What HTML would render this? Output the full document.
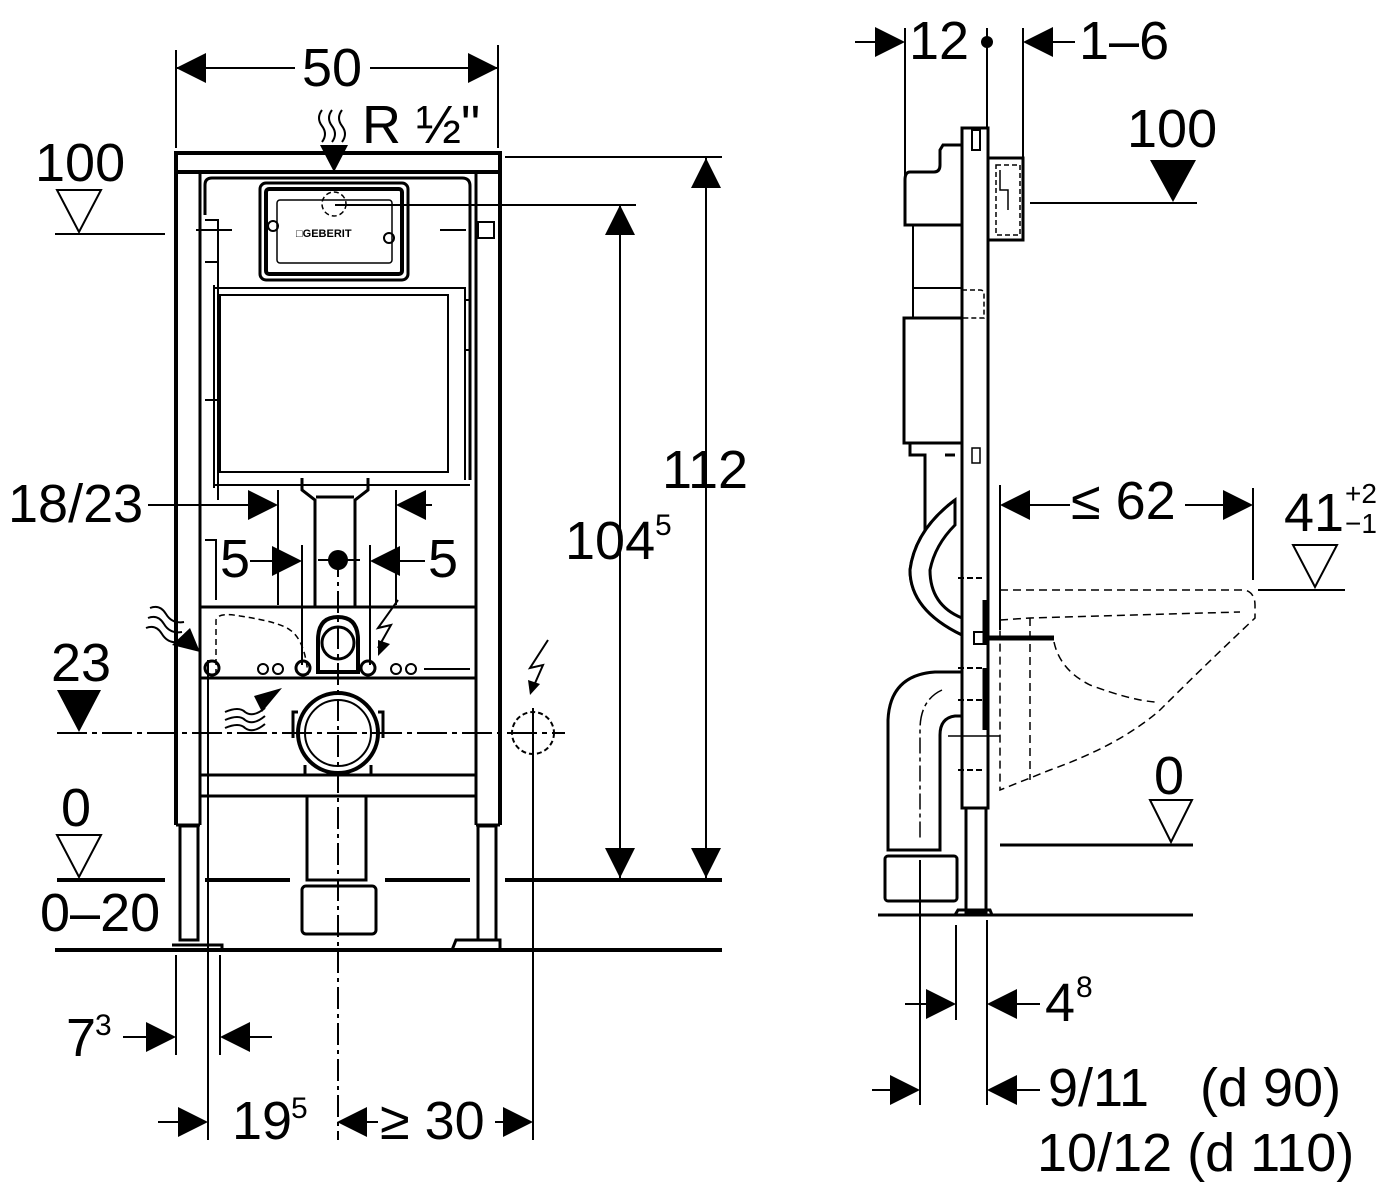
<!DOCTYPE html>
<html><head><meta charset="utf-8"><style>
html,body{margin:0;padding:0;background:#fff}
svg{display:block}
text{font-family:"Liberation Sans",Arial,sans-serif;fill:#000}
</style></head><body>
<svg width="1400" height="1200" viewBox="0 0 1400 1200" xmlns="http://www.w3.org/2000/svg">
<g stroke="#000" fill="none" stroke-width="2">
<line x1="176" y1="50" x2="176" y2="148"/><line x1="498" y1="45" x2="498" y2="148"/>
<line x1="176" y1="68" x2="295" y2="68"/><line x1="370" y1="68" x2="498" y2="68"/>
<rect x="176" y="153" width="324" height="19" stroke-width="4"/>
<line x1="176" y1="172" x2="176" y2="825" stroke-width="4"/>
<line x1="200" y1="172" x2="200" y2="825" stroke-width="3"/>
<line x1="500" y1="172" x2="500" y2="825" stroke-width="4"/>
<line x1="476" y1="172" x2="476" y2="825" stroke-width="3"/>
<line x1="176" y1="825" x2="200" y2="825" stroke-width="3"/>
<line x1="476" y1="825" x2="500" y2="825" stroke-width="3"/>
<rect x="180" y="826" width="18" height="114" stroke-width="3"/>
<rect x="478" y="826" width="18" height="114" stroke-width="3"/>
<path d="M172 945 L222 945 L222 950" stroke-width="3"/>
<path d="M452 950 L456 940 L500 940 L500 950" stroke-width="3"/>
<path d="M205 215 L205 185 Q205 178 212 178 L462 178 Q470 178 470 186 L470 480" stroke-width="3"/>
<path d="M214 285 L214 488" stroke-width="2"/>
<path d="M214 288 L465 288 L465 480" stroke-width="2"/>
<rect x="220" y="295" width="228" height="177" stroke-width="2"/>
<line x1="214" y1="485" x2="470" y2="485" stroke-width="2"/>
<rect x="260" y="183" width="148" height="97" rx="6" stroke-width="3"/>
<rect x="266" y="189" width="136" height="85" rx="3" stroke-width="4"/>
<rect x="277" y="200" width="115" height="63" rx="3" stroke-width="1.5"/>
<circle cx="334" cy="204" r="12" stroke-dasharray="5 3" stroke-width="1.5"/>
<circle cx="273" cy="226" r="5"/><circle cx="389" cy="238" r="5"/>
<line x1="335" y1="205" x2="636" y2="205"/>
<line x1="196" y1="230" x2="232" y2="230"/><line x1="440" y1="230" x2="466" y2="230"/>
<rect x="478" y="222" width="16" height="16" stroke-width="2"/>
<path d="M205 220 L218 220 L218 500" stroke-width="2"/>
<path d="M205 262 L218 262 M205 400 L218 400" stroke-width="2"/>
<path d="M205 540 L216 540 L216 600" stroke-width="2"/>
<path d="M465 300 L470 300 L470 350 L465 350" stroke-width="2"/>
<path d="M302 478 L302 490 L315 500 L315 607 M368 478 L368 490 L355 500 L355 607" stroke-width="3"/>
<line x1="316" y1="497" x2="354" y2="497" stroke-width="3"/>
<line x1="200" y1="607" x2="476" y2="607" stroke-width="3"/>
<line x1="200" y1="678" x2="476" y2="678" stroke-width="3"/>
<line x1="200" y1="775" x2="476" y2="775" stroke-width="3"/>
<line x1="200" y1="796" x2="476" y2="796" stroke-width="3"/>
<path d="M216 675 L216 620 Q218 612 240 616 Q280 622 290 630 Q305 640 308 675" stroke-dasharray="6 4" stroke-width="1.5"/>
<circle cx="212" cy="668" r="7" stroke-width="3"/>
<circle cx="263" cy="669" r="5"/><circle cx="278" cy="669" r="5"/>
<circle cx="303" cy="668" r="7" stroke-width="3"/>
<circle cx="368" cy="668" r="7" stroke-width="3"/>
<circle cx="396" cy="669" r="5"/><circle cx="411" cy="669" r="5"/>
<line x1="424" y1="669" x2="470" y2="669"/>
<path d="M318 672 L318 640 Q318 617 338 617 Q358 617 358 640 L358 672 Z" stroke-width="4"/>
<circle cx="338" cy="643" r="16" stroke-width="3"/>
<circle cx="338" cy="733" r="40" stroke-width="4"/>
<circle cx="338" cy="733" r="33" stroke-width="2"/>
<path d="M298 712 L293 712 L293 738 M378 712 L383 712 L383 738" stroke-width="3"/>
<path d="M305 765 L305 775 M371 765 L371 775" stroke-width="3"/>
<path d="M307 797 L307 880 L366 880 L366 797" stroke-width="3"/>
<rect x="302" y="886" width="74" height="48" rx="4" stroke-width="3"/>
<line x1="338" y1="555" x2="338" y2="1140" stroke-dasharray="22 5 4 5" stroke-width="2"/>
<line x1="57" y1="733" x2="565" y2="733" stroke-dasharray="30 5 5 5" stroke-width="2"/>
<line x1="318" y1="560" x2="360" y2="560"/>
<circle cx="533" cy="733" r="21" stroke-dasharray="5 3" stroke-width="2"/>
<line x1="533" y1="708" x2="533" y2="1140"/>
<path d="M548 640 L530 668 L543 665 L532 690" stroke-width="2"/>
<path d="M398 600 L378 628 L391 625 L378 648" stroke-width="2"/>
<path d="M322 110 q-6 8 0 16 q6 8 0 16 M332 110 q-6 8 0 16 q6 8 0 16 M342 110 q-6 8 0 16 q6 8 0 16" stroke-width="2"/>
<path d="M150 608 q10 -4 16 6 q6 10 18 8 M148 618 q10 -4 16 6 q6 10 18 8 M146 628 q10 -4 16 6 q6 10 18 8" stroke-width="2"/>
<path d="M225 712 q14 -6 20 0 q8 6 20 -4 M225 720 q14 -6 20 0 q8 6 20 -4 M225 728 q14 -6 20 0 q8 6 20 -4" stroke-width="2"/>
<path d="M57 880 L165 880 M205 880 L290 880 M385 880 L470 880 M505 880 L722 880" stroke-width="4"/>
<line x1="55" y1="950" x2="722" y2="950" stroke-width="4"/>
<line x1="55" y1="234" x2="165" y2="234"/>
<path d="M57 190 L101 190 L79 232 Z"/>
<path d="M57 835 L101 835 L79 877 Z"/>
<line x1="620" y1="205" x2="620" y2="878"/>
<line x1="706" y1="158" x2="706" y2="878"/>
<line x1="505" y1="157" x2="722" y2="157"/>
<line x1="148" y1="505" x2="250" y2="505"/>
<line x1="278" y1="490" x2="278" y2="605"/>
<line x1="396" y1="490" x2="396" y2="605"/>
<line x1="425" y1="505" x2="432" y2="505"/>
<line x1="250" y1="561" x2="275" y2="561"/>
<line x1="302" y1="545" x2="302" y2="665"/>
<line x1="370" y1="545" x2="370" y2="665"/>
<line x1="398" y1="561" x2="425" y2="561"/>
<line x1="176" y1="955" x2="176" y2="1055"/>
<line x1="208" y1="660" x2="208" y2="1140"/>
<line x1="220" y1="955" x2="220" y2="1055"/>
<line x1="123" y1="1037" x2="150" y2="1037"/>
<line x1="245" y1="1037" x2="272" y2="1037"/>
<line x1="158" y1="1122" x2="180" y2="1122"/>
<line x1="365" y1="1122" x2="378" y2="1122"/>
<line x1="495" y1="1122" x2="505" y2="1122"/>

<line x1="905" y1="28" x2="905" y2="185"/>
<line x1="987" y1="28" x2="987" y2="128"/>
<line x1="1023" y1="28" x2="1023" y2="158"/>
<line x1="855" y1="42" x2="880" y2="42"/>
<line x1="1050" y1="42" x2="1075" y2="42"/>
<rect x="962" y="128" width="26" height="680" stroke-width="3"/>
<rect x="966" y="808" width="20" height="105" stroke-width="3"/>
<rect x="972" y="130" width="8" height="20" stroke-width="2"/>
<path d="M955 915 L958 910 L990 910 L992 915" stroke-width="3"/>
<rect x="988" y="158" width="35" height="82" stroke-width="3"/>
<rect x="996" y="165" width="24" height="70" stroke-dasharray="5 3" stroke-width="1.5"/>
<path d="M1000 170 L1000 190 L1008 190 L1008 210" stroke-width="1.5"/>
<path d="M962 145 L943 145 L940 150 L940 165 Q940 172 934 172 L910 172 Q905 172 905 180 L905 225 L962 225" stroke-width="3"/>
<path d="M913 225 L913 290" stroke-width="2"/>
<rect x="913" y="288" width="49" height="30" stroke-width="2"/>
<path d="M962 290 L980 290 Q984 290 984 294 L984 318 L962 318" stroke-dasharray="5 3" stroke-width="1.5"/>
<rect x="904" y="318" width="58" height="125" stroke-width="3"/>
<path d="M910 443 L910 455 L925 455 L925 530 M945 455 L955 455" stroke-width="3"/>
<rect x="972" y="448" width="8" height="15" stroke-width="1.5"/>
<path d="M955 500 Q915 530 910 570 Q910 610 962 635" stroke-width="3"/>
<path d="M955 525 Q935 545 930 570 Q930 605 962 618" stroke-width="2"/>
<path d="M958 578 L985 578 M958 668 L985 668 M958 770 L985 770 M958 700 L985 700" stroke-dasharray="6 3" stroke-width="2"/>
<line x1="985" y1="600" x2="985" y2="645" stroke-width="5"/>
<line x1="985" y1="668" x2="985" y2="730" stroke-width="5"/>
<line x1="985" y1="638" x2="1054" y2="638" stroke-width="5"/>
<rect x="974" y="632" width="10" height="12" stroke-width="2"/>
<path d="M962 672 L935 672 Q890 675 888 720 L888 850 L940 850 L940 735 Q940 718 955 716 L962 716" stroke-width="3"/>
<path d="M942 690 Q920 700 920 730 L920 840" stroke-dasharray="16 4 4 4" stroke-width="1.5"/>
<rect x="885" y="856" width="72" height="45" rx="3" stroke-width="3"/>
<line x1="948" y1="736" x2="1000" y2="736" stroke-width="1.5"/>
<path d="M1000 590 L1245 590 Q1255 593 1255 605 L1255 618 Q1200 670 1160 710 Q1120 745 1050 770 L1000 790 Z" stroke-dasharray="8 5" stroke-width="1.5"/>
<path d="M1000 620 L1030 618 L1240 612 M1030 618 L1030 780" stroke-dasharray="8 5" stroke-width="1.5"/>
<path d="M1054 642 Q1060 670 1090 685 Q1130 700 1155 702" stroke-dasharray="8 5" stroke-width="1.5"/>
<line x1="1000" y1="485" x2="1000" y2="630"/>
<line x1="1253" y1="488" x2="1253" y2="580"/>
<line x1="1025" y1="505" x2="1070" y2="505"/>
<line x1="1185" y1="505" x2="1225" y2="505"/>
<line x1="1030" y1="203" x2="1197" y2="203"/>
<path d="M1293 545 L1337 545 L1315 587 Z"/>
<line x1="1258" y1="590" x2="1345" y2="590"/>
<path d="M1150 800 L1192 800 L1171 842 Z"/>
<line x1="1000" y1="845" x2="1193" y2="845" stroke-width="3"/>
<line x1="878" y1="915" x2="1193" y2="915" stroke-width="3"/>
<line x1="920" y1="860" x2="920" y2="1105"/>
<line x1="956" y1="925" x2="956" y2="1020"/>
<line x1="987" y1="920" x2="987" y2="1105"/>
<line x1="905" y1="1004" x2="928" y2="1004"/>
<line x1="1015" y1="1004" x2="1040" y2="1004"/>
<line x1="872" y1="1090" x2="892" y2="1090"/>
<line x1="1015" y1="1090" x2="1040" y2="1090"/>
</g>

<g fill="#000" stroke="none">
<polygon points="176,68 206,53 206,83"/><polygon points="498,68 468,53 468,83"/>
<polygon points="334,172 320,145 348,145"/>
<polygon points="620,205 605,235 635,235"/><polygon points="620,878 605,848 635,848"/>
<polygon points="706,158 691,188 721,188"/><polygon points="706,878 691,848 721,848"/>
<polygon points="278,505 248,490 248,520"/><polygon points="396,505 426,490 426,520"/>
<polygon points="302,561 272,546 272,576"/><polygon points="370,561 400,546 400,576"/>
<polygon points="57,690 101,690 79,732"/>
<polygon points="176,1037 146,1022 146,1052"/><polygon points="220,1037 250,1022 250,1052"/>
<polygon points="208,1122 178,1107 178,1137"/>
<polygon points="337,1122 367,1107 367,1137"/><polygon points="533,1122 503,1107 503,1137"/>
<polygon points="200,652 172,645 190,628"/>
<polygon points="282,688 262,712 254,696"/>
<polygon points="378,656 378,640 390,644"/>
<polygon points="530,695 528,680 540,684"/>
<circle cx="338" cy="560" r="10"/>
<polygon points="905,42 875,27 875,57"/><polygon points="1023,42 1053,27 1053,57"/>
<circle cx="987" cy="42" r="6"/>
<polygon points="1150,160 1196,160 1173,202"/>
<polygon points="1000,505 1030,490 1030,520"/><polygon points="1253,505 1223,490 1223,520"/>
<polygon points="956,1004 926,989 926,1019"/><polygon points="987,1004 1017,989 1017,1019"/>
<polygon points="920,1090 890,1075 890,1105"/><polygon points="987,1090 1017,1075 1017,1105"/>
<path d="M955 500 Q915 530 910 570 Q910 610 962 635 L962 618 Q930 605 930 570 Q935 545 955 525 Z" fill="#fff" stroke="#000" stroke-width="3"/>
</g>

<g font-size="54">
<text x="302" y="86">50</text>
<text x="362" y="143">R ½"</text>
<text x="35" y="181">100</text>
<text x="662" y="488">112</text>
<text x="565" y="559">104</text><text x="655" y="535" font-size="30">5</text>
<text x="8" y="522">18/23</text>
<text x="220" y="577">5</text>
<text x="428" y="577">5</text>
<text x="51" y="681">23</text>
<text x="61" y="826">0</text>
<text x="40" y="931">0–20</text>
<text x="66" y="1056">7</text><text x="95" y="1035" font-size="30">3</text>
<text x="232" y="1139">19</text><text x="291" y="1118" font-size="30">5</text>
<text x="380" y="1139">≥ 30</text>
<text x="909" y="59">12</text>
<text x="1079" y="59">1–6</text>
<text x="1127" y="147">100</text>
<text x="1071" y="519">≤ 62</text>
<text x="1284" y="531">41</text><text x="1345" y="503" font-size="28">+2</text><text x="1345" y="533" font-size="28">−1</text>
<text x="1154" y="794">0</text>
<text x="1045" y="1021">4</text><text x="1076" y="997" font-size="30">8</text>
<text x="1048" y="1106">9/11</text>
<text x="1200" y="1106">(d 90)</text>
<text x="1037" y="1171">10/12 (d 110)</text>
</g>
<text x="296" y="237" font-size="11" font-weight="bold">□GEBERIT</text>
</svg>
</body></html>
